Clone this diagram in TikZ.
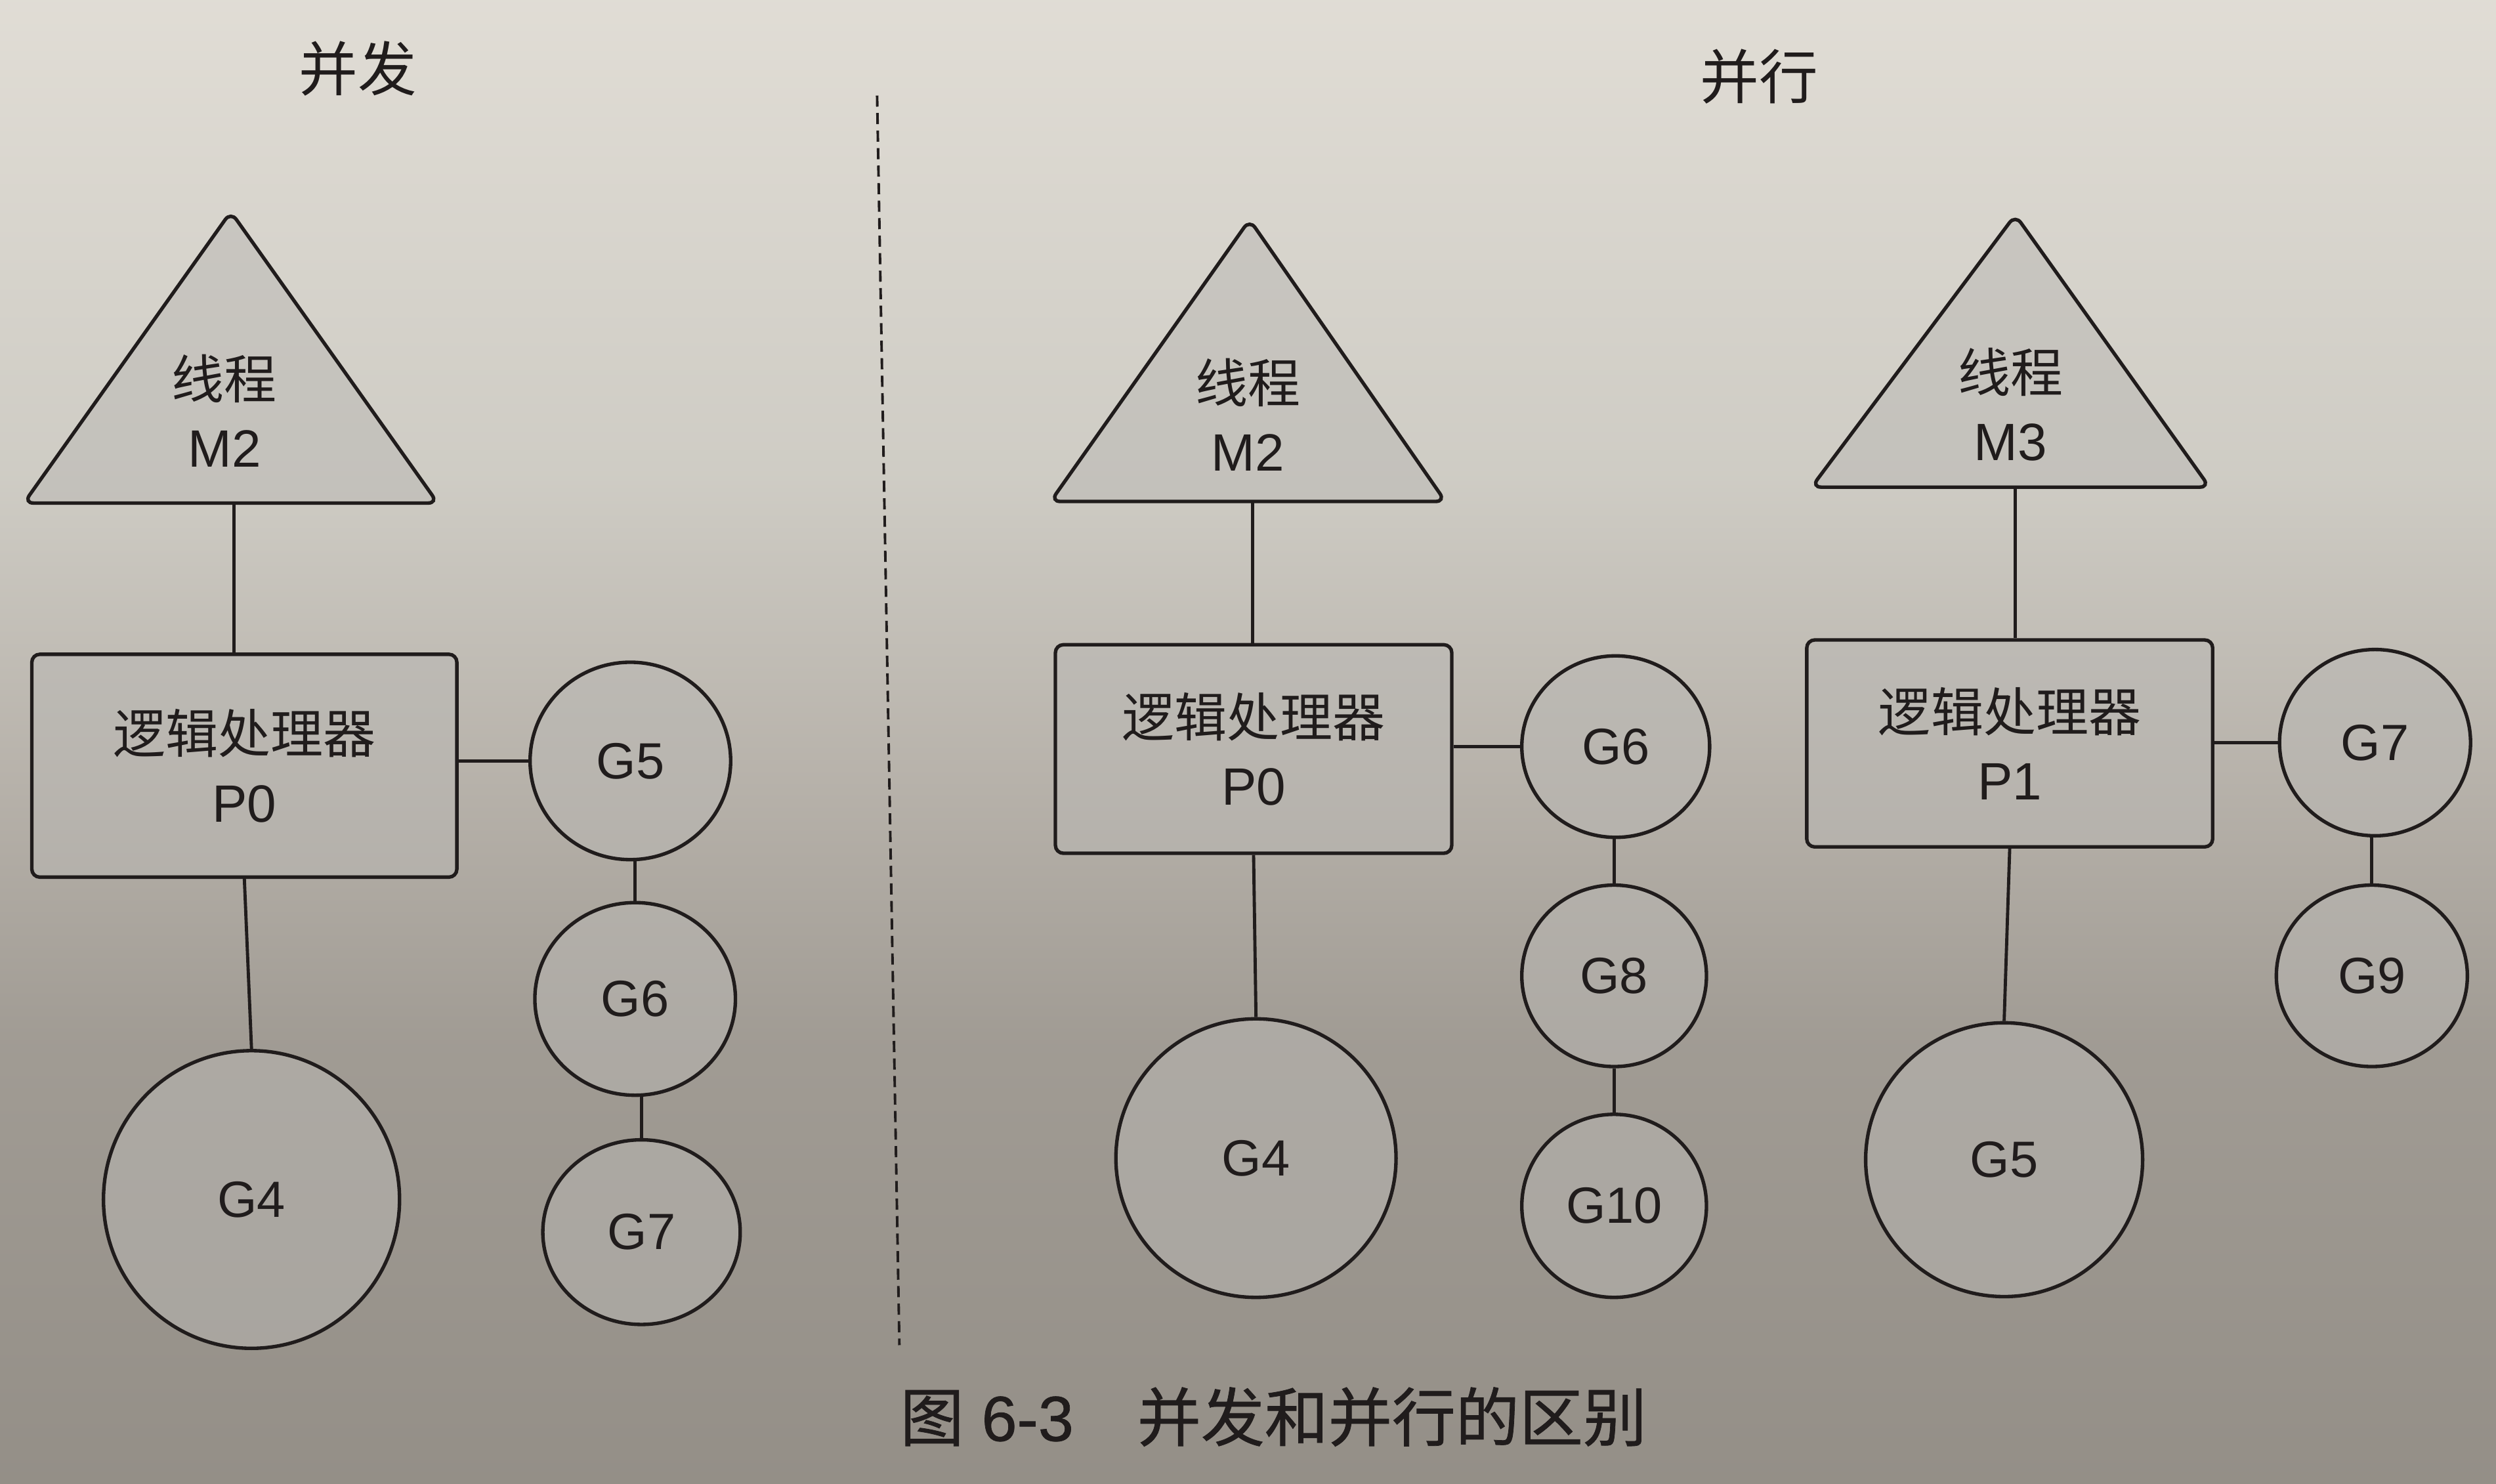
\documentclass[tikz,border=0pt]{standalone}
\usepackage{fontspec}
\setmainfont{Liberation Sans}
\newfontfamily\cjk{Noto Sans CJK SC}
\newfontfamily\cjkcap[FakeBold=0.8]{Noto Sans CJK SC}
\newfontfamily\capsans[FakeBold=0.8]{Liberation Sans}
\usetikzlibrary{shapes.geometric}
\definecolor{ink}{RGB}{32,28,28}
\definecolor{shapefill}{RGB}{186,184,180}
\pgfdeclareverticalshading{pagebg}{100bp}{rgb(0bp)=(0.58,0.56,0.53); rgb(25bp)=(0.58,0.56,0.53); rgb(40bp)=(0.63,0.61,0.58); rgb(49bp)=(0.72,0.70,0.67); rgb(59bp)=(0.81,0.80,0.77); rgb(75bp)=(0.88,0.865,0.835); rgb(100bp)=(0.88,0.865,0.835)}
\tikzset{
  part/.style={draw=ink, line width=2.2pt, fill=shapefill, fill opacity=0.5, text opacity=1, text=ink},
  procbox/.style={part, rectangle, rounded corners=5pt, align=center, inner sep=0pt, font=\fontsize{33}{43}\selectfont},
  gor/.style={part, ellipse, inner sep=0pt, font=\fontsize{32}{38}\selectfont},
  tri/.style={draw=ink, line width=2.2pt, fill=shapefill, fill opacity=0.5, rounded corners=6pt},
  link/.style={draw=ink, line width=2pt},
  lbl/.style={text=ink, align=center, font=\fontsize{33}{43}\selectfont},
  heading/.style={text=ink, font=\cjk\fontsize{37}{37}\selectfont},
  divider/.style={draw=ink, line width=1.6pt, dash pattern=on 7pt off 4pt}
}
\begin{document}
\begin{tikzpicture}[x=1pt, y=-1pt]
\useasboundingbox (0,0) rectangle (1568,932);
\shade[shading=pagebg] (0,0) rectangle (1568,932);

% headings
\node[heading] (t1) at (225,43) {并发};
\node[heading] (t2) at (1105,48) {并行};

% divider
\coordinate (dtop) at (551,60);
\coordinate (dbot) at (565,845);
\draw[divider] (dtop) -- (dbot);

% ---------- left: concurrency ----------
\draw[tri] (145,133) -- (275,316) -- (15,316) -- cycle;
\node[lbl] (m2a) at (141,258) {{\cjk 线程}\\M2};
\coordinate (m2abase) at (147,316);
\node[procbox, minimum width=267pt, minimum height=140pt] (p0a) at (153.5,481) {{\cjk 逻辑处理器}\\P0};
\node[gor, minimum width=126pt, minimum height=124pt] (g5a) at (396,478) {G5};
\node[gor, minimum width=126pt, minimum height=121pt] (g6a) at (399,627.5) {G6};
\node[gor, minimum width=124pt, minimum height=116pt] (g7a) at (403,774) {G7};
\node[gor, minimum width=186pt, minimum height=187pt] (g4a) at (158,753.5) {G4};
\draw[link] (m2abase) -- (m2abase |- p0a.north);
\draw[link] (g5a.west -| p0a.east) -- (g5a.west);
\draw[link] (g6a.north) -- (g6a.north |- g5a.south);
\draw[link] (g7a.north) -- (g7a.north |- g6a.south);
\draw[link] (p0a.south) -- (g4a.north);

% ---------- middle: parallel P0 ----------
\draw[tri] (785,138) -- (908,315) -- (660,315) -- cycle;
\node[lbl] (m2b) at (784,260.5) {{\cjk 线程}\\M2};
\coordinate (m2bbase) at (787,315);
\node[procbox, minimum width=249pt, minimum height=131pt] (p0b) at (787.5,470.5) {{\cjk 逻辑处理器}\\P0};
\node[gor, minimum width=118pt, minimum height=114pt] (g6b) at (1015,469) {G6};
\node[gor, minimum width=116pt, minimum height=114pt] (g8b) at (1014,613) {G8};
\node[gor, minimum width=116pt, minimum height=115pt] (g10b) at (1014,757.5) {G10};
\node[gor, minimum width=176pt, minimum height=175pt] (g4b) at (789,727.5) {G4};
\draw[link] (m2bbase) -- (m2bbase |- p0b.north);
\draw[link] (g6b.west -| p0b.east) -- (g6b.west);
\draw[link] (g8b.north) -- (g8b.north |- g6b.south);
\draw[link] (g10b.north) -- (g10b.north |- g8b.south);
\draw[link] (p0b.south) -- (g4b.north);

% ---------- right: parallel P1 ----------
\draw[tri] (1266,135) -- (1388,306) -- (1138,306) -- cycle;
\node[lbl] (m3c) at (1263,254) {{\cjk 线程}\\M3};
\coordinate (m3cbase) at (1266,306);
\node[procbox, minimum width=255pt, minimum height=130pt] (p1c) at (1262.5,467) {{\cjk 逻辑处理器}\\P1};
\node[gor, minimum width=120pt, minimum height=117pt] (g7c) at (1492,466.5) {G7};
\node[gor, minimum width=120pt, minimum height=114pt] (g9c) at (1490,613) {G9};
\node[gor, minimum width=174pt, minimum height=172pt] (g5c) at (1259,728.5) {G5};
\draw[link] (m3cbase) -- (m3cbase |- p1c.north);
\draw[link] (g7c.west -| p1c.east) -- (g7c.west);
\draw[link] (g9c.north) -- (g9c.north |- g7c.south);
\draw[link] (p1c.south) -- (g5c.north);

% caption
\node[text=ink, font=\capsans\fontsize{40}{40}\selectfont] (cap) at (800,890) {{\cjkcap 图} 6-3\hspace{40pt}{\cjkcap 并发和并行的区别}};
\end{tikzpicture}
\end{document}
